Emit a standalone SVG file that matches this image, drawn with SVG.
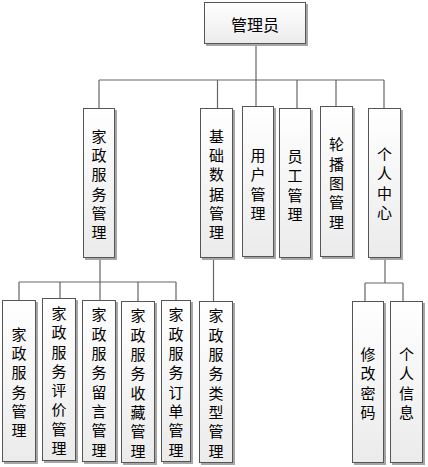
<svg xmlns="http://www.w3.org/2000/svg" width="428" height="467" viewBox="0 0 428 467">
<defs>
<linearGradient id="g" x1="0" y1="0" x2="0" y2="1">
<stop offset="0" stop-color="#ffffff"/>
<stop offset="1" stop-color="#ebebeb"/>
</linearGradient>
<style>
.sh{fill:#a6a6a6}
.bx{fill:url(#g);stroke:#555;stroke-width:1}
.t{font-family:"Noto Sans CJK SC","Noto Sans CJK TC",sans-serif;font-size:15px;fill:#000;text-anchor:middle;dominant-baseline:central}
.c{fill:none;stroke:#666;stroke-width:1.2}
</style>
</defs>
<rect width="428" height="467" fill="#fff"/>
<g id="connectors">
<path class="c" d="M256 44V80M99 80H384M99 80V108M217.5 80V108M256 80V106M297 80V108M336 80V106M384 80V108"/>
<path class="c" d="M100 258V282M19 282H176M19 282V300M60 282V298M100 282V300M138 282V301M176 282V300"/>
<path class="c" d="M213.5 258V301"/>
<path class="c" d="M385 258V283M365 283H403M365 283V301M403 283V301"/>
</g>
<g id="n0"><rect class="sh" x="206" y="4" width="102" height="42"/><rect class="bx" x="204.5" y="2.5" width="101" height="41"/><text class="t" x="255" y="24" style="font-size:16px">管理员</text></g>
<g id="n1"><rect class="sh" x="85" y="110" width="32" height="150"/><rect class="bx" x="83.5" y="108.5" width="31" height="149"/><text class="t" x="99" y="183"><tspan x="99" dy="-48.25">家</tspan><tspan x="99" dy="19.3">政</tspan><tspan x="99" dy="19.3">服</tspan><tspan x="99" dy="19.3">务</tspan><tspan x="99" dy="19.3">管</tspan><tspan x="99" dy="19.3">理</tspan></text></g>
<g id="n2"><rect class="sh" x="202" y="110" width="33" height="150"/><rect class="bx" x="200.5" y="108.5" width="32" height="149"/><text class="t" x="216.5" y="183"><tspan x="216.5" dy="-48.25">基</tspan><tspan x="216.5" dy="19.3">础</tspan><tspan x="216.5" dy="19.3">数</tspan><tspan x="216.5" dy="19.3">据</tspan><tspan x="216.5" dy="19.3">管</tspan><tspan x="216.5" dy="19.3">理</tspan></text></g>
<g id="n3"><rect class="sh" x="244" y="108" width="32" height="151"/><rect class="bx" x="242.5" y="106.5" width="31" height="150"/><text class="t" x="258" y="183"><tspan x="258" dy="-28.95">用</tspan><tspan x="258" dy="19.3">户</tspan><tspan x="258" dy="19.3">管</tspan><tspan x="258" dy="19.3">理</tspan></text></g>
<g id="n4"><rect class="sh" x="281" y="110" width="32" height="150"/><rect class="bx" x="279.5" y="108.5" width="31" height="149"/><text class="t" x="295" y="184"><tspan x="295" dy="-28.95">员</tspan><tspan x="295" dy="19.3">工</tspan><tspan x="295" dy="19.3">管</tspan><tspan x="295" dy="19.3">理</tspan></text></g>
<g id="n5"><rect class="sh" x="322" y="108" width="33" height="151"/><rect class="bx" x="320.5" y="106.5" width="32" height="150"/><text class="t" x="336.5" y="182"><tspan x="336.5" dy="-38.6">轮</tspan><tspan x="336.5" dy="19.3">播</tspan><tspan x="336.5" dy="19.3">图</tspan><tspan x="336.5" dy="19.3">管</tspan><tspan x="336.5" dy="19.3">理</tspan></text></g>
<g id="n6"><rect class="sh" x="370" y="110" width="33" height="150"/><rect class="bx" x="368.5" y="108.5" width="32" height="149"/><text class="t" x="384.5" y="182"><tspan x="384.5" dy="-28.95">个</tspan><tspan x="384.5" dy="19.3">人</tspan><tspan x="384.5" dy="19.3">中</tspan><tspan x="384.5" dy="19.3">心</tspan></text></g>
<g id="n7"><rect class="sh" x="4" y="302" width="34" height="162"/><rect class="bx" x="2.5" y="300.5" width="33" height="161"/><text class="t" x="19" y="381"><tspan x="19" dy="-48.25">家</tspan><tspan x="19" dy="19.3">政</tspan><tspan x="19" dy="19.3">服</tspan><tspan x="19" dy="19.3">务</tspan><tspan x="19" dy="19.3">管</tspan><tspan x="19" dy="19.3">理</tspan></text></g>
<g id="n8"><rect class="sh" x="44" y="300" width="34" height="163"/><rect class="bx" x="42.5" y="298.5" width="33" height="162"/><text class="t" x="59" y="379.5"><tspan x="59" dy="-67.55">家</tspan><tspan x="59" dy="19.3">政</tspan><tspan x="59" dy="19.3">服</tspan><tspan x="59" dy="19.3">务</tspan><tspan x="59" dy="19.3">评</tspan><tspan x="59" dy="19.3">价</tspan><tspan x="59" dy="19.3">管</tspan><tspan x="59" dy="19.3">理</tspan></text></g>
<g id="n9"><rect class="sh" x="84" y="302" width="34" height="162"/><rect class="bx" x="82.5" y="300.5" width="33" height="161"/><text class="t" x="99" y="381"><tspan x="99" dy="-67.55">家</tspan><tspan x="99" dy="19.3">政</tspan><tspan x="99" dy="19.3">服</tspan><tspan x="99" dy="19.3">务</tspan><tspan x="99" dy="19.3">留</tspan><tspan x="99" dy="19.3">言</tspan><tspan x="99" dy="19.3">管</tspan><tspan x="99" dy="19.3">理</tspan></text></g>
<g id="n10"><rect class="sh" x="123" y="303" width="34" height="162"/><rect class="bx" x="121.5" y="301.5" width="33" height="161"/><text class="t" x="138" y="382"><tspan x="138" dy="-67.55">家</tspan><tspan x="138" dy="19.3">政</tspan><tspan x="138" dy="19.3">服</tspan><tspan x="138" dy="19.3">务</tspan><tspan x="138" dy="19.3">收</tspan><tspan x="138" dy="19.3">藏</tspan><tspan x="138" dy="19.3">管</tspan><tspan x="138" dy="19.3">理</tspan></text></g>
<g id="n11"><rect class="sh" x="163" y="302" width="30" height="162"/><rect class="bx" x="161.5" y="300.5" width="29" height="161"/><text class="t" x="176" y="381"><tspan x="176" dy="-67.55">家</tspan><tspan x="176" dy="19.3">政</tspan><tspan x="176" dy="19.3">服</tspan><tspan x="176" dy="19.3">务</tspan><tspan x="176" dy="19.3">订</tspan><tspan x="176" dy="19.3">单</tspan><tspan x="176" dy="19.3">管</tspan><tspan x="176" dy="19.3">理</tspan></text></g>
<g id="n12"><rect class="sh" x="201" y="303" width="34" height="162"/><rect class="bx" x="199.5" y="301.5" width="33" height="161"/><text class="t" x="216" y="382"><tspan x="216" dy="-67.55">家</tspan><tspan x="216" dy="19.3">政</tspan><tspan x="216" dy="19.3">服</tspan><tspan x="216" dy="19.3">务</tspan><tspan x="216" dy="19.3">类</tspan><tspan x="216" dy="19.3">型</tspan><tspan x="216" dy="19.3">管</tspan><tspan x="216" dy="19.3">理</tspan></text></g>
<g id="n13"><rect class="sh" x="354" y="303" width="32" height="162"/><rect class="bx" x="352.5" y="301.5" width="31" height="161"/><text class="t" x="368" y="382"><tspan x="368" dy="-28.95">修</tspan><tspan x="368" dy="19.3">改</tspan><tspan x="368" dy="19.3">密</tspan><tspan x="368" dy="19.3">码</tspan></text></g>
<g id="n14"><rect class="sh" x="392" y="303" width="33" height="162"/><rect class="bx" x="390.5" y="301.5" width="32" height="161"/><text class="t" x="406.5" y="382"><tspan x="406.5" dy="-28.95">个</tspan><tspan x="406.5" dy="19.3">人</tspan><tspan x="406.5" dy="19.3">信</tspan><tspan x="406.5" dy="19.3">息</tspan></text></g>
</svg>
